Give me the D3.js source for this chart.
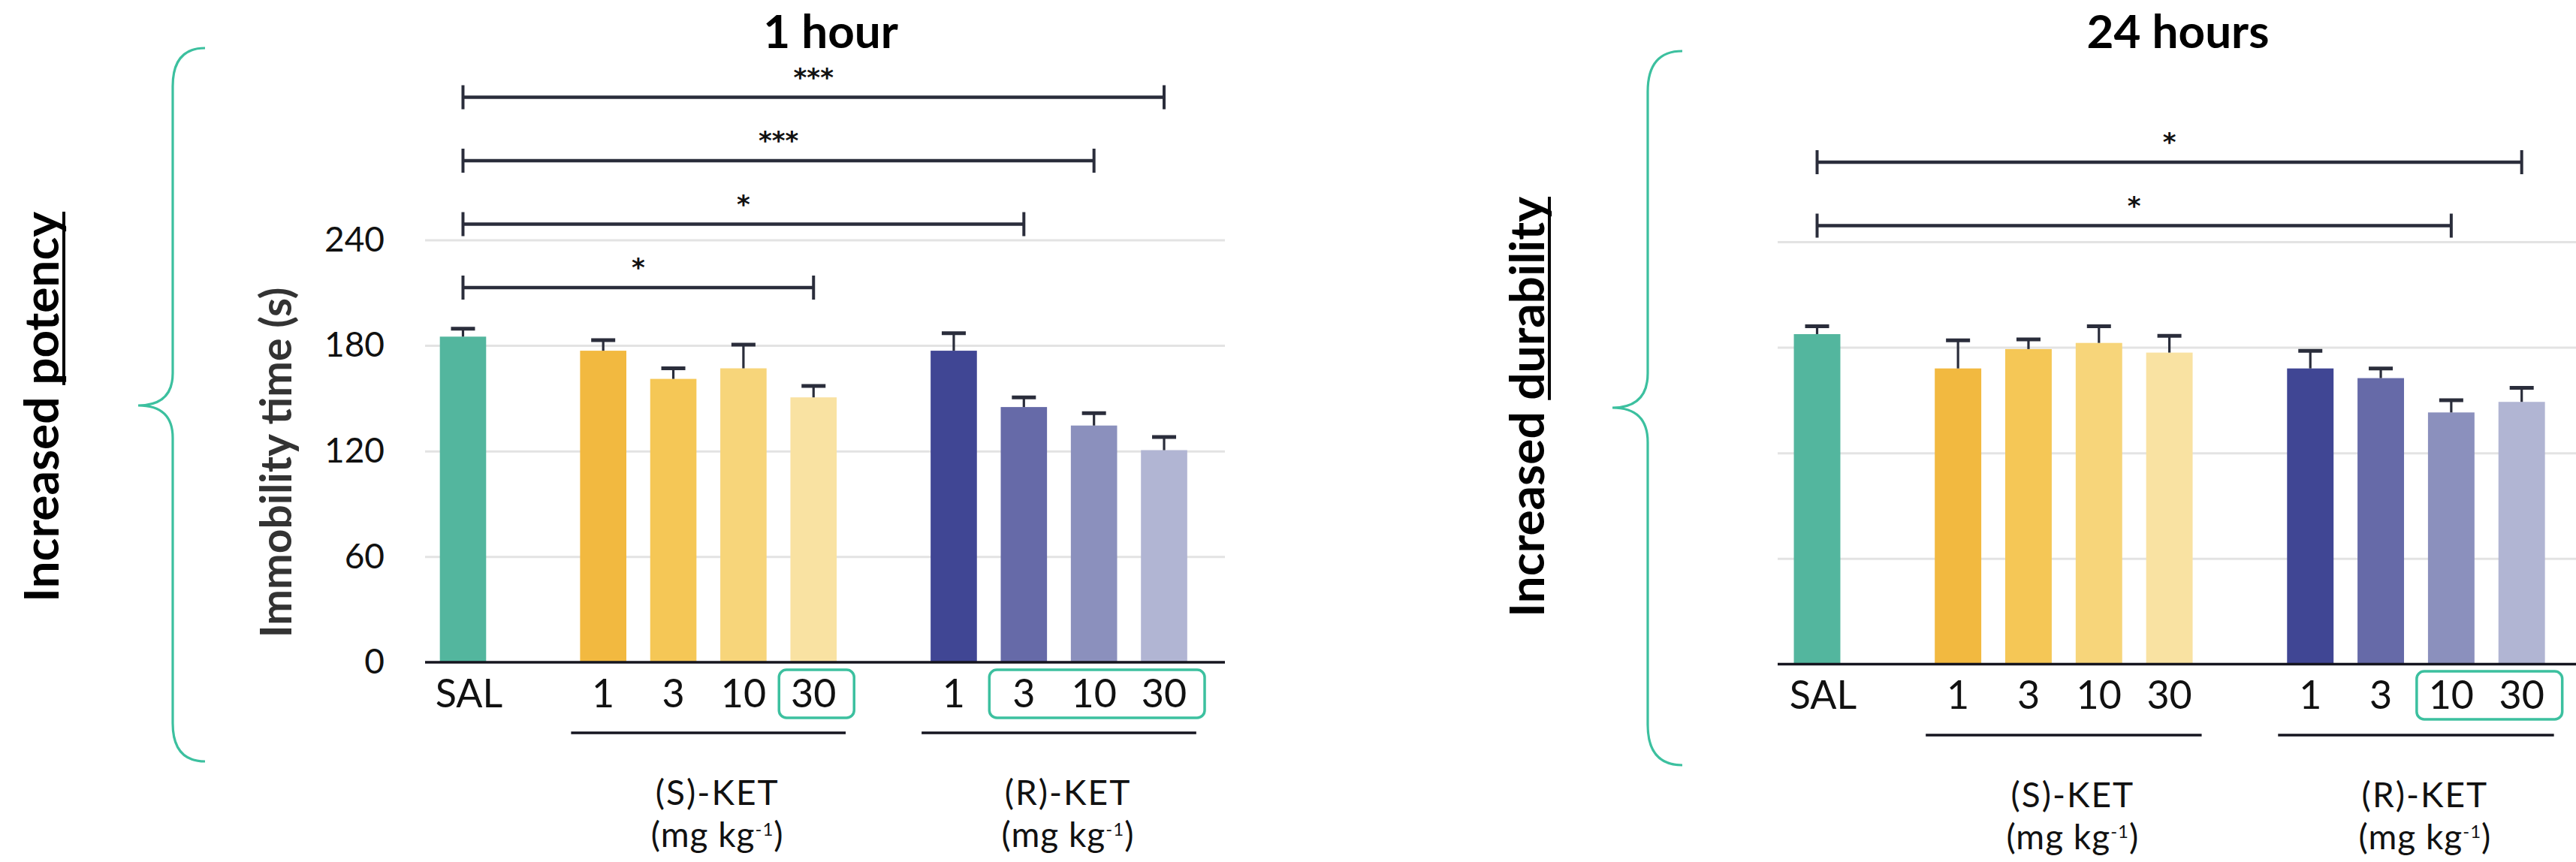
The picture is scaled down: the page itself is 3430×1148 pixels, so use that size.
<!DOCTYPE html>
<html>
<head>
<meta charset="utf-8">
<script src="https://cdn.jsdelivr.net/npm/d3@7"></script>
<style>
  html, body { margin: 0; padding: 0; background: #ffffff; }
  svg { display: block; font-family: Lato, "Open Sans", "Noto Sans", sans-serif; }
</style>
</head>
<body>
<svg id="chart" width="3430" height="1148"></svg>
<script>
// ---- data -------------------------------------------------------------
const categories    = ["SAL", "S1", "S3", "S10", "S30", "R1", "R3", "R10", "R30"];
const categoryGroup = ["SAL", "S", "S", "S", "S", "R", "R", "R", "R"];
const doseLabels    = ["SAL", "1", "3", "10", "30", "1", "3", "10", "30"];
const groupKeys     = ["S", "R"];
const groupNames    = ["(S)-KET", "(R)-KET"];
const yTicks        = [0, 60, 120, 180, 240];

// immobility time (s), mean and SEM
const meanHour1  = [185, 177, 161, 167, 150.5, 177, 145, 134.5, 120.5];
const semHour1   = [4.5, 6, 6, 13.5, 6.5, 10, 5.5, 7, 7.5];
const meanHour24 = [187.5, 168, 179, 182.5, 177, 168, 162.5, 143, 149];
const semHour24  = [4.5, 16, 5.5, 9.5, 9.5, 10, 5.5, 7, 8];

// pairwise comparisons against saline
const sigHour1 = [
  { from: "SAL", to: "S30", mark: "*" },
  { from: "SAL", to: "R3",  mark: "*" },
  { from: "SAL", to: "R10", mark: "***" },
  { from: "SAL", to: "R30", mark: "***" }
];
const sigHour24 = [
  { from: "SAL", to: "R10", mark: "*" },
  { from: "SAL", to: "R30", mark: "*" }
];

// doses that are framed in the x axis labels
const highlightHour1  = [["S30"], ["R3", "R10", "R30"]];
const highlightHour24 = [["R10", "R30"]];

const panelTitles = ["1 hour", "24 hours"];
const sideWords   = [["Increased", "potency"], ["Increased", "durability"]];
const yAxisTitle  = "Immobility time (s)";

// ---- styles -----------------------------------------------------------
const colors = ["#53b69e",
                "#f2b940", "#f5c756", "#f7d57a", "#f9e2a2",
                "#404694", "#666aa8", "#8b90bd", "#b1b5d3"];
const ink = "#2a2d3b";
const green = "#3cc09f";
const gridColor = "#e3e3e3";

const svg = d3.select("#chart");

// band domain: one empty slot between treatment groups
const slots = [];
categories.forEach((c, i) => {
  if (i > 0 && categoryGroup[i] !== categoryGroup[i - 1]) slots.push("gap" + i);
  slots.push(c);
});

function drawBrace(b) {
  const r = b.endX - b.lineX;
  const path = `M${b.endX},${b.y0}
    Q${b.lineX},${b.y0} ${b.lineX},${b.y0 + r + 8}
    L${b.lineX},${b.tipY - r}
    Q${b.lineX},${b.tipY} ${b.tipX},${b.tipY}
    Q${b.lineX},${b.tipY} ${b.lineX},${b.tipY + r}
    L${b.lineX},${b.y1 - r - 8}
    Q${b.lineX},${b.y1} ${b.endX},${b.y1}`;
  svg.append("path").attr("d", path)
    .attr("fill", "none").attr("stroke", green).attr("stroke-width", 3.2);
}

function drawSideLabel(words, cx, cy) {
  const t = svg.append("text")
    .attr("transform", `translate(${cx},${cy}) rotate(-90)`)
    .attr("text-anchor", "middle")
    .attr("font-size", 64).attr("font-weight", 700).attr("fill", "#000");
  t.append("tspan").text(words[0] + " ");
  const w = t.append("tspan").text(words[1]);
  const total = t.node().getComputedTextLength();
  const wordLen = w.node().getComputedTextLength();
  const start = total / 2 - wordLen;
  svg.append("line")
    .attr("transform", `translate(${cx},${cy}) rotate(-90)`)
    .attr("x1", start).attr("x2", total / 2)
    .attr("y1", 7).attr("y2", 7)
    .attr("stroke", "#000").attr("stroke-width", 4);
}

function drawPanel(cfg, means, sems, sigs, highlights, title) {
  const g = svg.append("g");
  const x = d3.scaleBand().domain(slots).range([cfg.x0, cfg.x1])
    .paddingInner(0.34).paddingOuter(0.17);
  const y = d3.scaleLinear().domain([0, 240]).range([cfg.yBase, cfg.yTop]);
  const bw = x.bandwidth();
  const cx = k => x(k) + bw / 2;

  // horizontal gridlines
  g.append("g")
    .attr("transform", `translate(${cfg.gridX0},0)`)
    .call(d3.axisLeft(y).tickValues(yTicks.slice(1))
      .tickSize(-(cfg.gridX1 - cfg.gridX0)).tickFormat(""))
    .call(a => a.select(".domain").remove())
    .selectAll("line").attr("stroke", gridColor).attr("stroke-width", 3);

  // tick labels
  if (cfg.showY) {
    g.append("g")
      .attr("transform", `translate(${cfg.tickLabelX},0)`)
      .call(d3.axisLeft(y).tickValues(yTicks).tickSize(0).tickPadding(0))
      .call(a => a.select(".domain").remove())
      .selectAll("text")
      .attr("font-family", "Lato, sans-serif")
      .attr("font-size", 46).attr("fill", "#111");

    g.append("text")
      .attr("transform", `translate(${cfg.yTitleX},${cfg.yTitleY}) rotate(-90)`)
      .attr("text-anchor", "middle")
      .attr("font-size", 57).attr("font-weight", 700).attr("fill", "#333")
      .text(yAxisTitle);
  }

  const rows = categories.map((c, i) => ({
    key: c, mean: means[i], sem: sems[i], color: colors[i], label: doseLabels[i]
  }));

  // bars
  g.selectAll("rect.bar").data(rows).join("rect")
    .attr("class", "bar")
    .attr("x", d => x(d.key)).attr("width", bw)
    .attr("y", d => y(d.mean)).attr("height", d => y(0) - y(d.mean))
    .attr("fill", d => d.color);

  // error bars (upper SEM)
  g.selectAll("line.err").data(rows).join("line")
    .attr("class", "err")
    .attr("x1", d => cx(d.key)).attr("x2", d => cx(d.key))
    .attr("y1", d => y(d.mean)).attr("y2", d => y(d.mean + d.sem))
    .attr("stroke", ink).attr("stroke-width", 3.2);
  g.selectAll("line.cap").data(rows).join("line")
    .attr("class", "cap")
    .attr("x1", d => cx(d.key) - 16).attr("x2", d => cx(d.key) + 16)
    .attr("y1", d => y(d.mean + d.sem)).attr("y2", d => y(d.mean + d.sem))
    .attr("stroke", ink).attr("stroke-width", 5);

  // baseline
  g.append("line")
    .attr("x1", cfg.gridX0).attr("x2", cfg.gridX1)
    .attr("y1", y(0)).attr("y2", y(0))
    .attr("stroke", "#15151f").attr("stroke-width", 3.5);

  // dose labels
  g.selectAll("text.dose").data(rows).join("text")
    .attr("class", "dose")
    .attr("x", d => cx(d.key) + (d.key === "SAL" ? 8 : 0))
    .attr("y", cfg.labelY)
    .attr("text-anchor", "middle")
    .attr("font-size", 52).attr("fill", "#111")
    .text(d => d.label);

  // highlight frames around doses
  highlights.forEach(keys => {
    const x1 = cx(keys[0]) - 46, x2 = cx(keys[keys.length - 1]) + 54;
    g.append("rect")
      .attr("x", x1).attr("y", cfg.labelY - 50)
      .attr("width", x2 - x1).attr("height", 64)
      .attr("rx", 10).attr("ry", 10)
      .attr("fill", "none").attr("stroke", green).attr("stroke-width", 3.5);
  });

  // group underlines and names
  groupKeys.forEach((gk, gi) => {
    const members = categories.filter((c, i) => categoryGroup[i] === gk);
    const a = x(members[0]) - 12, b = x(members[members.length - 1]) + bw + 12;
    g.append("line")
      .attr("x1", a).attr("x2", b)
      .attr("y1", cfg.groupLineY).attr("y2", cfg.groupLineY)
      .attr("stroke", "#15151f").attr("stroke-width", 3.5);
    const mid = (a + b) / 2 + 12;
    g.append("text")
      .attr("x", mid).attr("y", cfg.groupLineY + 96)
      .attr("text-anchor", "middle").attr("font-size", 46).attr("fill", "#111")
      .attr("letter-spacing", 2)
      .text(groupNames[gi]);
    const u = g.append("text")
      .attr("x", mid).attr("y", cfg.groupLineY + 152)
      .attr("text-anchor", "middle").attr("font-size", 46).attr("fill", "#111")
      .attr("letter-spacing", 1);
    u.append("tspan").text("(mg kg");
    u.append("tspan").attr("font-size", 24).attr("dy", -15).text("-1");
    u.append("tspan").attr("dy", 15).text(")");
  });

  // significance brackets
  sigs.forEach((s, i) => {
    const level = cfg.sigStart + i;
    const yl = cfg.sigBaseY - level * 84.5;
    const xa = cx(s.from), xb = cx(s.to);
    g.append("line").attr("x1", xa).attr("x2", xb).attr("y1", yl).attr("y2", yl)
      .attr("stroke", ink).attr("stroke-width", 4.5);
    [xa, xb].forEach(xx => g.append("line")
      .attr("x1", xx).attr("x2", xx).attr("y1", yl - 16).attr("y2", yl + 16)
      .attr("stroke", ink).attr("stroke-width", 4));
    g.append("text")
      .attr("x", (xa + xb) / 2).attr("y", yl - 15)
      .attr("text-anchor", "middle")
      .attr("font-family", "'DejaVu Sans', sans-serif")
      .attr("font-size", 34).attr("font-weight", 700)
      .attr("fill", "#111")
      .text(s.mark);
  });

  // panel title
  g.append("text")
    .attr("x", cfg.titleX).attr("y", 64)
    .attr("text-anchor", "middle")
    .attr("font-size", 62).attr("font-weight", 700).attr("fill", "#000")
    .text(title);
}

// ---- layout -------------------------------------------------------------
const leftPanel = {
  x0: 569.8, x1: 1596.7, gridX0: 566, gridX1: 1631,
  yBase: 882, yTop: 319.4, showY: true,
  tickLabelX: 512, yTitleX: 388, yTitleY: 616,
  labelY: 942, groupLineY: 976,
  sigBaseY: 383, sigStart: 0, titleX: 1106
};
const rightPanel = {
  x0: 2372.6, x1: 3404.6, gridX0: 2367, gridX1: 3430,
  yBase: 884.5, yTop: 321.9, showY: false,
  labelY: 944, groupLineY: 979,
  sigBaseY: 385, sigStart: 1, titleX: 2900
};

drawBrace({ tipX: 184, lineX: 230, endX: 273, y0: 64, y1: 1014, tipY: 540 });
drawBrace({ tipX: 2147, lineX: 2194, endX: 2240, y0: 68, y1: 1019, tipY: 543 });
drawSideLabel(sideWords[0], 78, 542);
drawSideLabel(sideWords[1], 2056, 542);

drawPanel(leftPanel, meanHour1, semHour1, sigHour1, highlightHour1, panelTitles[0]);
drawPanel(rightPanel, meanHour24, semHour24, sigHour24, highlightHour24, panelTitles[1]);
</script>
</body>
</html>
